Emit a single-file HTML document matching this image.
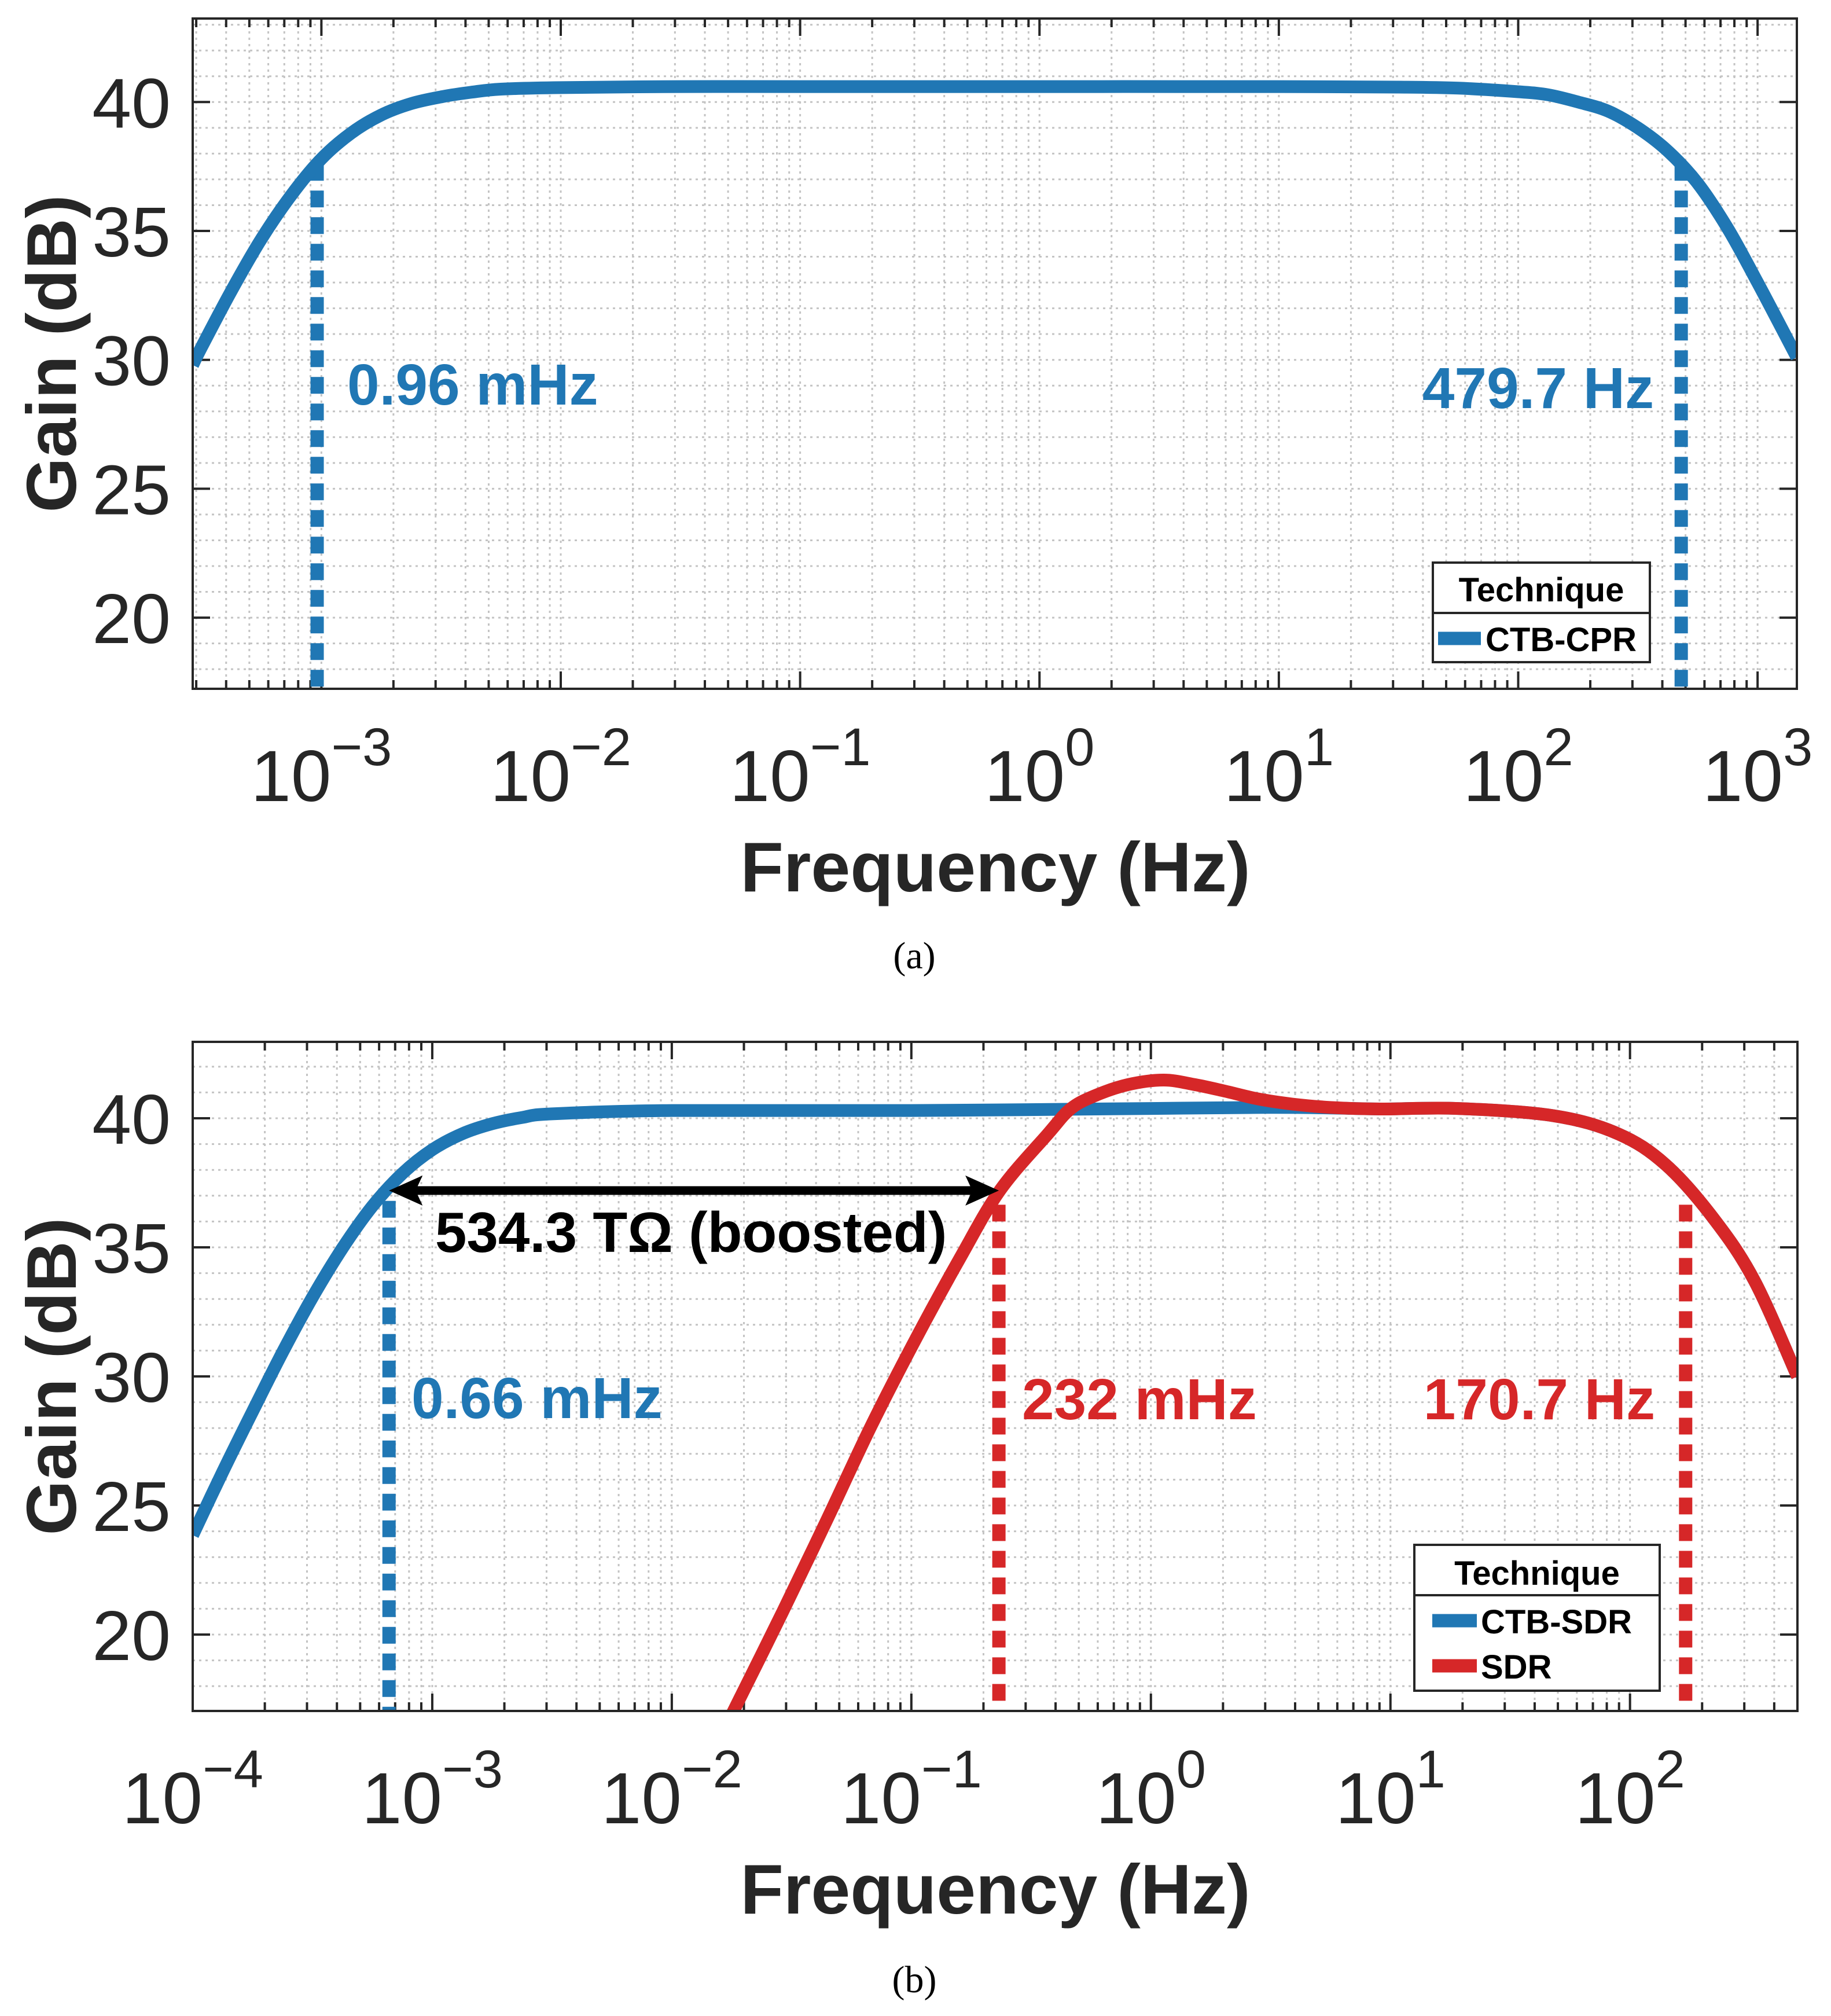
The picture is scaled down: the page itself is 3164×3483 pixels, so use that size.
<!DOCTYPE html>
<html><head><meta charset="utf-8">
<style>
html,body{margin:0;padding:0;background:#fff;}
svg{display:block;}
text{font-family:"Liberation Sans",Arial,sans-serif;}
</style></head>
<body>
<svg id="fig" xmlns="http://www.w3.org/2000/svg" width="3164" height="3483" viewBox="0 0 3164 3483">
<rect x="0" y="0" width="3164" height="3483" fill="#fff"/>
</svg>
<script>
// ---------- Panel (a) data ----------
const freqA = [2.9e-4, 3.16e-4, 4.22e-4, 5.62e-4, 7.5e-4, 1e-3, 1.334e-3, 1.78e-3, 2.37e-3, 3.16e-3, 4.22e-3, 5.62e-3, 0.01, 0.0316, 0.1, 1, 10, 31.6, 56.2, 100, 133.4, 178, 237, 316, 421.7, 562, 750, 1000, 1459];
const gainA = [29.8, 30.5, 32.7, 34.7, 36.4, 37.8, 38.8, 39.5, 39.94, 40.2, 40.38, 40.5, 40.56, 40.6, 40.6, 40.6, 40.6, 40.58, 40.54, 40.4, 40.28, 40.0, 39.65, 39.0, 38.1, 36.85, 35.1, 33.0, 30.1];
const cutoffsA = [0.00096, 479.7];
const cutoffGainA = [37.6, 37.6];
const cutoffLabelsA = ["0.96 mHz", "479.7 Hz"];
const xTickExpA = [-3, -2, -1, 0, 1, 2, 3];
const yTicks = [20, 25, 30, 35, 40];

// ---------- Panel (b) data ----------
const freqBlue = [1e-4, 1.334e-4, 1.78e-4, 2.37e-4, 3.16e-4, 4.22e-4, 5.62e-4, 7.5e-4, 1e-3, 1.334e-3, 1.78e-3, 2.37e-3, 3.16e-3, 0.01, 0.1, 1, 3, 5.6, 9.12, 19.1, 47.9, 89.1, 141, 224, 331, 500];
const gainBlue = [23.85, 26.3, 28.65, 30.93, 33.06, 34.97, 36.59, 37.86, 38.78, 39.4, 39.79, 40.03, 40.17, 40.3, 40.3, 40.38, 40.42, 40.4, 40.36, 40.38, 40.1, 39.4, 38.2, 36.1, 33.7, 30.0];
const freqRed = [0.0178, 0.0291, 0.0447, 0.0681, 0.105, 0.16, 0.234, 0.372, 0.46, 0.575, 0.8, 1.13, 1.53, 2.04, 2.8, 3.89, 5.6, 9.12, 19.1, 47.9, 89.1, 141, 224, 331, 500];
const gainRed = [16.9, 20.9, 24.5, 28.1, 31.5, 34.6, 37.2, 39.4, 40.35, 40.85, 41.3, 41.48, 41.3, 41.05, 40.75, 40.55, 40.42, 40.36, 40.38, 40.1, 39.4, 38.2, 36.1, 33.7, 30.0];
const cutoffsB = [0.00066, 0.232, 170.7];
const cutoffGainB = [36.8, 36.65, 36.65];
const cutoffLabelsB = ["0.66 mHz", "232 mHz", "170.7 Hz"];
const xTickExpB = [-4, -3, -2, -1, 0, 1, 2];
const arrowFreqs = [0.00066, 0.232];
const arrowGain = 37.2;

const BLUE = "#2077b4", RED = "#d62728", AX = "#262626";
const NS = "http://www.w3.org/2000/svg";
const svg = document.getElementById("fig");

function mk(tag, attrs, parent) {
  const e = document.createElementNS(NS, tag);
  for (const k in attrs) e.setAttribute(k, attrs[k]);
  (parent || svg).appendChild(e);
  return e;
}

function makeAxes(P) {
  const sx = f => P.x0 + (Math.log10(f) - P.lmin) / (P.lmax - P.lmin) * (P.x1 - P.x0);
  const sy = g => P.y1 - (g - P.gmin) / (P.gmax - P.gmin) * (P.y1 - P.y0);
  return {sx, sy};
}

function smoothPath(pts) {
  let d = "M" + pts[0][0].toFixed(1) + "," + pts[0][1].toFixed(1);
  for (let i = 0; i < pts.length - 1; i++) {
    const p0 = pts[i - 1] || pts[i], p1 = pts[i], p2 = pts[i + 1], p3 = pts[i + 2] || p2;
    const c1x = p1[0] + (p2[0] - p0[0]) / 6, c1y = p1[1] + (p2[1] - p0[1]) / 6;
    const c2x = p2[0] - (p3[0] - p1[0]) / 6, c2y = p2[1] - (p3[1] - p1[1]) / 6;
    d += " C" + c1x.toFixed(1) + "," + c1y.toFixed(1) + " " + c2x.toFixed(1) + "," + c2y.toFixed(1) + " " + p2[0].toFixed(1) + "," + p2[1].toFixed(1);
  }
  return d;
}

function drawPanel(P, id) {
  const {sx, sy} = makeAxes(P);
  const g = mk("g", {});
  
  
  const clipId = "clip" + id;
  const cp = mk("clipPath", {id: clipId}, g);
  mk("rect", {x: P.x0, y: P.y0, width: P.x1 - P.x0, height: P.y1 - P.y0}, cp);

  const grid = mk("g", {stroke: "#c4c4c4", "stroke-width": 3, "stroke-dasharray": "4 7", fill: "none"}, g);
  
  
  for (let gg = Math.ceil(P.gmin); gg <= P.gmax; gg++) {
    const l = mk("line", {x1: P.x0, x2: P.x1, y1: sy(gg), y2: sy(gg)}, grid);
    
    
  }
  const ticksG = mk("g", {stroke: AX, "stroke-width": 4}, g);
  
  
  for (let d = Math.floor(P.lmin); d <= Math.ceil(P.lmax); d++) {
    for (let k = 1; k <= 9; k++) {
      const lf = d + Math.log10(k);
      if (lf < P.lmin - 1e-6 || lf > P.lmax + 1e-6) continue;
      const x = sx(Math.pow(10, lf));
      const l = mk("line", {x1: x, x2: x, y1: P.y0, y2: P.y1}, grid);
      
      
      const len = k === 1 ? 30 : 15;
      mk("line", {x1: x, x2: x, y1: P.y1, y2: P.y1 - len}, ticksG);
      mk("line", {x1: x, x2: x, y1: P.y0, y2: P.y0 + len}, ticksG);
    }
  }
  yTicks.forEach(v => {
    const y = sy(v);
    mk("line", {x1: P.x0, x2: P.x0 + 30, y1: y, y2: y}, ticksG);
    mk("line", {x1: P.x1, x2: P.x1 - 30, y1: y, y2: y}, ticksG);
    const t = mk("text", {x: 295, y: y + 44, "text-anchor": "end", "font-size": 122, fill: AX}, g);
    t.textContent = v;
    
    
  });
  P.xexp.forEach(e => {
    const x = sx(Math.pow(10, e));
    const t = mk("text", {x: x, y: P.y1 + 194, "text-anchor": "middle", "font-size": 125, fill: AX}, g);
    
    
    const a = mk("tspan", {}, t); a.textContent = "10";
    const b = mk("tspan", {dy: -62, "font-size": 92}, t); b.textContent = e < 0 ? "\u2212" + (-e) : String(e);
  });

  P.cutoffs.forEach((f, i) => {
    const x = sx(f);
    const l = mk("line", {x1: x, x2: x, y1: sy(P.cutGain[i]), y2: P.y1 - 2, stroke: P.cutColor[i], "stroke-width": 23, "stroke-dasharray": "29 17"}, g);
    
    
  });

  P.series.forEach(s => {
    const pts = s.f.map((f, i) => [sx(f), sy(s.g[i])]);
    const p = mk("path", {d: smoothPath(pts), fill: "none", stroke: s.color, "stroke-width": 22, "stroke-linejoin": "round", "clip-path": "url(#" + clipId + ")"}, g);
    
    
  });

  P.labels.forEach(L => {
    const t = mk("text", {x: L.x, y: L.y, "text-anchor": L.anchor, "font-size": 100, "font-weight": "bold", fill: L.color}, g);
    t.textContent = L.text;
    
    
  });

  const box = mk("rect", {x: P.x0, y: P.y0, width: P.x1 - P.x0, height: P.y1 - P.y0, fill: "none", stroke: AX, "stroke-width": 4}, g);
  
  

  const yc = (P.y0 + P.y1) / 2;
  const yt = mk("text", {x: 0, y: 0, transform: "translate(131," + yc + ") rotate(-90)", "text-anchor": "middle", "font-size": 122, "font-weight": "bold", fill: AX}, g);
  yt.textContent = "Gain (dB)";
  
  
  const xt = mk("text", {x: 1720, y: P.y1 + 350, "text-anchor": "middle", "font-size": 122, "font-weight": "bold", fill: AX}, g);
  xt.textContent = "Frequency (Hz)";
  
  
  const cap = mk("text", {x: 1580, y: P.captionY, "text-anchor": "middle", "font-size": 66, fill: "#000", style: "font-family:'Liberation Serif',serif"}, g);
  cap.textContent = "(" + id + ")";
  
  

  const L = P.legend;
  const lg = mk("g", {}, g);
  
  
  mk("rect", {x: L.x0, y: L.y0, width: L.x1 - L.x0, height: L.y1 - L.y0, fill: "#fff", stroke: AX, "stroke-width": 4}, lg);
  mk("line", {x1: L.x0, x2: L.x1, y1: L.div, y2: L.div, stroke: AX, "stroke-width": 4}, lg);
  const lt = mk("text", {x: (L.x0 + L.x1) / 2, y: L.titleY, "text-anchor": "middle", "font-size": 58, "font-weight": "bold", fill: "#000"}, lg);
  lt.textContent = "Technique";
  
  
  L.entries.forEach(en => {
    const eg = mk("g", {}, lg);
    
    
    mk("line", {x1: L.sx0, x2: L.sx1, y1: en.y, y2: en.y, stroke: en.color, "stroke-width": 23}, eg);
    const tx = mk("text", {x: L.tx, y: en.y + 22, "font-size": 58, "font-weight": "bold", fill: "#000"}, eg);
    tx.textContent = en.text;
  });
  return {sx, sy, g};
}

drawPanel({
  x0: 333, x1: 3105, y0: 32, y1: 1190, lmin: Math.log10(2.9e-4), lmax: Math.log10(1459), gmin: 17.24, gmax: 43.24,
  xexp: xTickExpA, cutoffs: cutoffsA, cutGain: cutoffGainA, cutColor: [BLUE, BLUE],
  series: [{f: freqA, g: gainA, color: BLUE, name: "ctb-cpr-curve"}],
  labels: [
    {text: cutoffLabelsA[0], x: 600, y: 699, anchor: "start", color: BLUE},
    {text: cutoffLabelsA[1], x: 2858, y: 705, anchor: "end", color: BLUE}
  ],
  captionY: 1673,
  legend: {x0: 2476, x1: 2851, y0: 972, y1: 1144, div: 1059, titleY: 1039, sx0: 2485, sx1: 2559, tx: 2567,
    entries: [{text: "CTB-CPR", color: BLUE, y: 1103}]}
}, "a");

const pb = drawPanel({
  x0: 333, x1: 3106, y0: 1800, y1: 2956, lmin: -4, lmax: Math.log10(500), gmin: 17.04, gmax: 42.96,
  xexp: xTickExpB, cutoffs: cutoffsB, cutGain: cutoffGainB, cutColor: [BLUE, RED, RED],
  series: [{f: freqBlue, g: gainBlue, color: BLUE, name: "ctb-sdr-curve"}, {f: freqRed, g: gainRed, color: RED, name: "sdr-curve"}],
  labels: [
    {text: cutoffLabelsB[0], x: 711, y: 2450, anchor: "start", color: BLUE},
    {text: cutoffLabelsB[1], x: 1766, y: 2452, anchor: "start", color: RED},
    {text: cutoffLabelsB[2], x: 2860, y: 2452, anchor: "end", color: RED}
  ],
  captionY: 3442,
  legend: {x0: 2444, x1: 2868, y0: 2669, y1: 2921, div: 2756, titleY: 2738, sx0: 2475, sx1: 2552, tx: 2559,
    entries: [{text: "CTB-SDR", color: BLUE, y: 2800}, {text: "SDR", color: RED, y: 2878}]}
}, "b");

(function () {
  const x1 = pb.sx(arrowFreqs[0]), x2 = pb.sx(arrowFreqs[1]), y = pb.sy(arrowGain);
  const ag = mk("g", {});
  
  
  mk("line", {x1: x1 + 40, x2: x2 - 40, y1: y, y2: y, stroke: "#000", "stroke-width": 15}, ag);
  mk("polygon", {points: `${x1},${y} ${x1 + 58},${y - 26} ${x1 + 46},${y} ${x1 + 58},${y + 26}`, fill: "#000"}, ag);
  mk("polygon", {points: `${x2},${y} ${x2 - 58},${y - 26} ${x2 - 46},${y} ${x2 - 58},${y + 26}`, fill: "#000"}, ag);
  const t = mk("text", {x: (x1 + x2) / 2 - 5, y: y + 106, "text-anchor": "middle", "font-size": 98, "font-weight": "bold", fill: "#000"}, ag);
  t.textContent = "534.3 T\u03A9 (boosted)";
  
  
})();
</script>
</body></html>
